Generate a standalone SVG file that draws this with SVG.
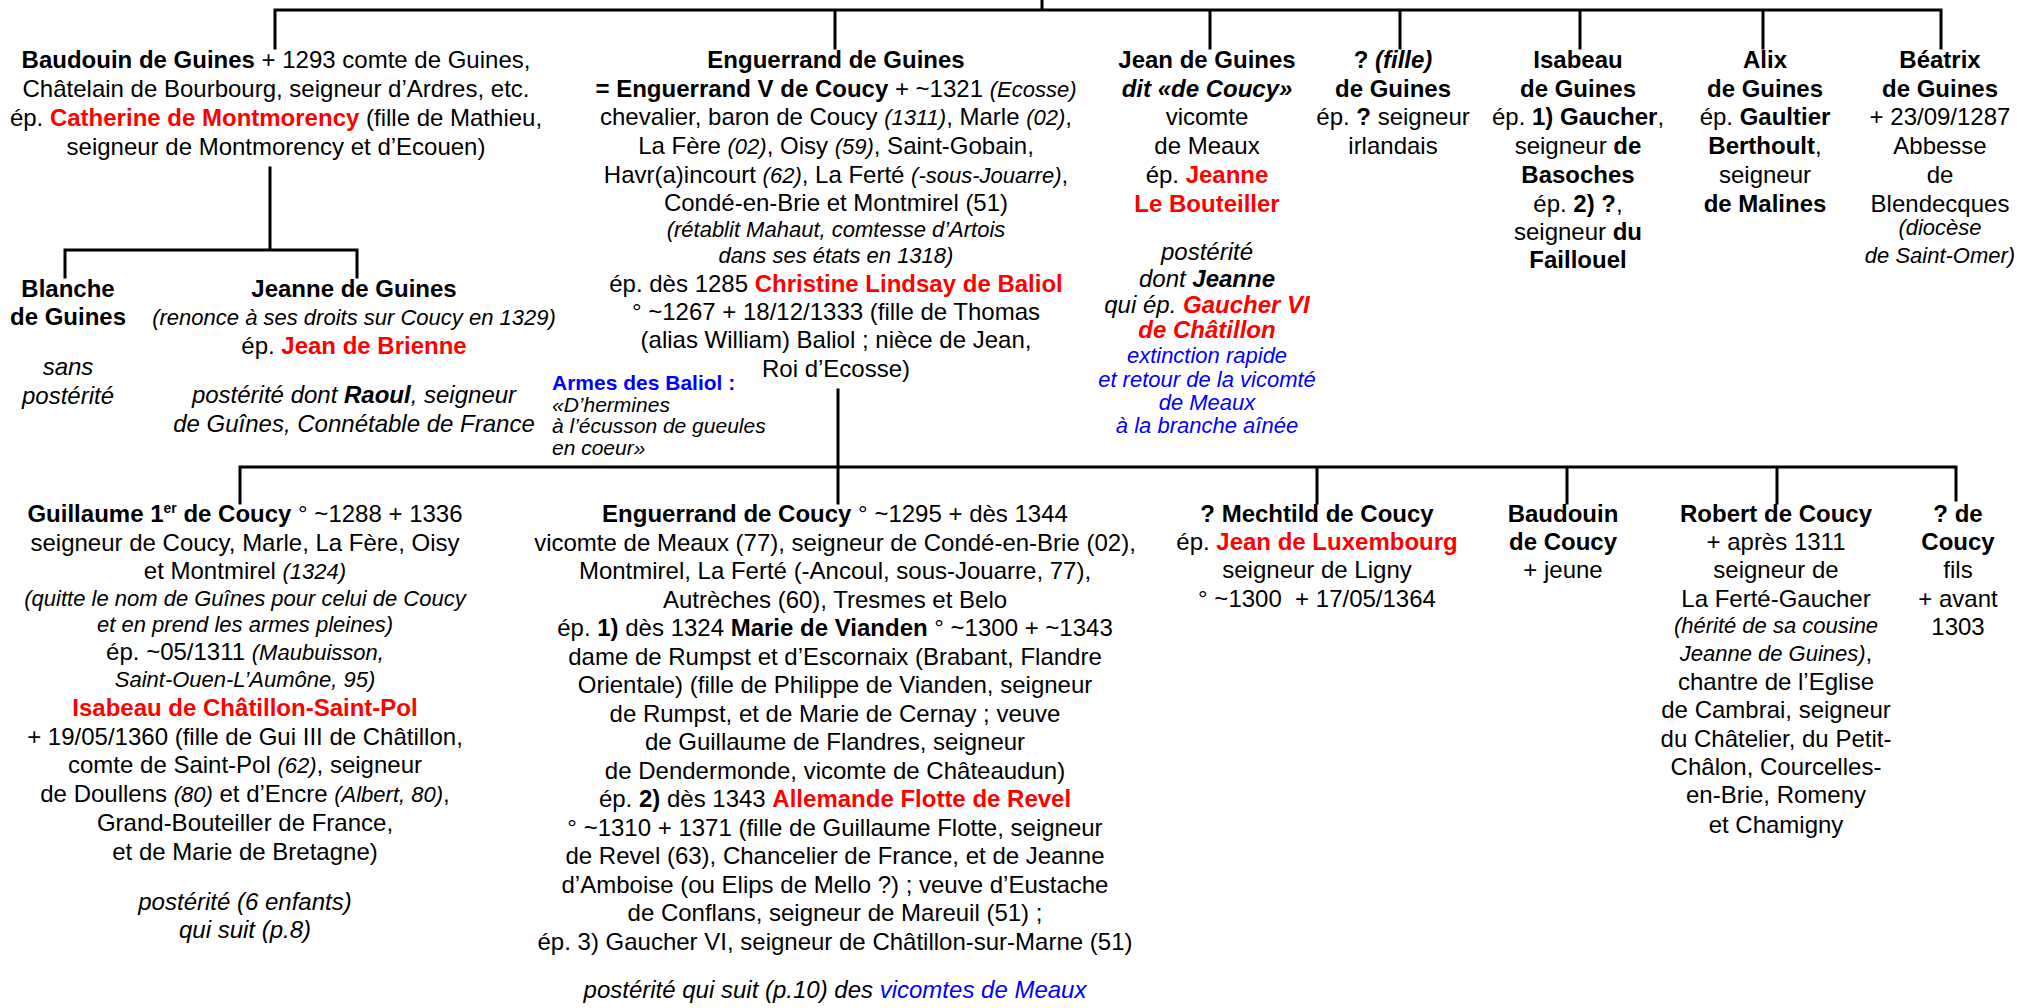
<svg xmlns="http://www.w3.org/2000/svg" width="2017" height="1008" viewBox="0 0 2017 1008">
<style>
text{font-family:"Liberation Sans",Arial,sans-serif;font-size:24px;fill:#000;text-anchor:middle}
.b{font-weight:bold}
.i{font-style:italic}
.s{font-size:22px}
.r{fill:#f00;font-weight:bold}
.u{fill:#00f}
.l{text-anchor:start}
.sup{font-size:14px}
.a{font-size:21px}
.c{fill:none;stroke:#000;stroke-width:3;stroke-linecap:square}
</style>
<rect width="2017" height="1008" fill="#fff"/>
<g id="connectors" class="c">
<path d="M1042,0V10 M275,10H1941 M275,10V48 M835,10V48 M1210,10V48 M1400,10V48 M1580,10V48 M1763,10V48 M1941,10V48"/>
<path d="M270,168V250 M65,250H357 M65,250V277 M357,250V277"/>
<path d="M838,390V503 M240,467H1956 M240,467V503 M1317,467V503 M1567,467V503 M1777,467V503 M1956,467V500"/>
</g>
<g id="baudouin-de-guines">
<text x="276" y="68"><tspan class="b">Baudouin de Guines</tspan> + 1293 comte de Guines,</text>
<text x="276" y="97">Châtelain de Bourbourg, seigneur d’Ardres, etc.</text>
<text x="276" y="126">ép. <tspan class="r">Catherine de Montmorency</tspan> (fille de Mathieu,</text>
<text x="276" y="155">seigneur de Montmorency et d’Ecouen)</text>
</g>
<g id="enguerrand-de-guines">
<text x="836" y="68" class="b">Enguerrand de Guines</text>
<text x="836" y="97"><tspan class="b">= Enguerrand V de Coucy</tspan> + ~1321 <tspan class="i s">(Ecosse)</tspan></text>
<text x="836" y="125">chevalier, baron de Coucy <tspan class="i s">(1311)</tspan>, Marle <tspan class="i s">(02)</tspan>,</text>
<text x="836" y="154">La Fère <tspan class="i s">(02)</tspan>, Oisy <tspan class="i s">(59)</tspan>, Saint-Gobain,</text>
<text x="836" y="183">Havr(a)incourt <tspan class="i s">(62)</tspan>, La Ferté <tspan class="i s">(-sous-Jouarre)</tspan>,</text>
<text x="836" y="211">Condé-en-Brie et Montmirel (51)</text>
<text x="836" y="237" class="i s">(rétablit Mahaut, comtesse d’Artois</text>
<text x="836" y="263" class="i s">dans ses états en 1318)</text>
<text x="836" y="292">ép. dès 1285 <tspan class="r">Christine Lindsay de Baliol</tspan></text>
<text x="836" y="320">° ~1267 + 18/12/1333 (fille de Thomas</text>
<text x="836" y="348">(alias William) Baliol ; nièce de Jean,</text>
<text x="836" y="377">Roi d’Ecosse)</text>
</g>
<g id="armes-baliol">
<text x="552" y="390" class="l a b u">Armes des Baliol :</text>
<text x="552" y="412" class="l a i">«D’hermines</text>
<text x="552" y="433" class="l a i">à l’écusson de gueules</text>
<text x="552" y="455" class="l a i">en coeur»</text>
</g>
<g id="jean-de-guines">
<text x="1207" y="68" class="b">Jean de Guines</text>
<text x="1207" y="97" class="b i">dit «de Coucy»</text>
<text x="1207" y="125">vicomte</text>
<text x="1207" y="154">de Meaux</text>
<text x="1207" y="183">ép. <tspan class="r">Jeanne</tspan></text>
<text x="1207" y="212" class="r">Le Bouteiller</text>
<text x="1207" y="260" class="i">postérité</text>
<text x="1207" y="287" class="i">dont <tspan class="b">Jeanne</tspan></text>
<text x="1207" y="313" class="i">qui ép. <tspan class="r">Gaucher VI</tspan></text>
<text x="1207" y="338" class="i r">de Châtillon</text>
<text x="1207" y="363" class="i s u">extinction rapide</text>
<text x="1207" y="387" class="i s u">et retour de la vicomté</text>
<text x="1207" y="410" class="i s u">de Meaux</text>
<text x="1207" y="433" class="i s u">à la branche aînée</text>
</g>
<g id="fille-de-guines">
<text x="1393" y="68" class="b">? <tspan class="i">(fille)</tspan></text>
<text x="1393" y="97" class="b">de Guines</text>
<text x="1393" y="125">ép. <tspan class="b">?</tspan> seigneur</text>
<text x="1393" y="154">irlandais</text>
</g>
<g id="isabeau-de-guines">
<text x="1578" y="68" class="b">Isabeau</text>
<text x="1578" y="97" class="b">de Guines</text>
<text x="1578" y="125">ép. <tspan class="b">1) Gaucher</tspan>,</text>
<text x="1578" y="154">seigneur <tspan class="b">de</tspan></text>
<text x="1578" y="183" class="b">Basoches</text>
<text x="1578" y="212">ép. <tspan class="b">2) ?</tspan>,</text>
<text x="1578" y="240">seigneur <tspan class="b">du</tspan></text>
<text x="1578" y="268" class="b">Faillouel</text>
</g>
<g id="alix-de-guines">
<text x="1765" y="68" class="b">Alix</text>
<text x="1765" y="97" class="b">de Guines</text>
<text x="1765" y="125">ép. <tspan class="b">Gaultier</tspan></text>
<text x="1765" y="154"><tspan class="b">Berthoult</tspan>,</text>
<text x="1765" y="183">seigneur</text>
<text x="1765" y="212" class="b">de Malines</text>
</g>
<g id="beatrix-de-guines">
<text x="1940" y="68" class="b">Béatrix</text>
<text x="1940" y="97" class="b">de Guines</text>
<text x="1940" y="125">+ 23/09/1287</text>
<text x="1940" y="154">Abbesse</text>
<text x="1940" y="183">de</text>
<text x="1940" y="212">Blendecques</text>
<text x="1940" y="235" class="i s">(diocèse</text>
<text x="1940" y="263" class="i s">de Saint-Omer)</text>
</g>
<g id="blanche-de-guines">
<text x="68" y="297" class="b">Blanche</text>
<text x="68" y="325" class="b">de Guines</text>
<text x="68" y="375" class="i">sans</text>
<text x="68" y="404" class="i">postérité</text>
</g>
<g id="jeanne-de-guines">
<text x="354" y="297" class="b">Jeanne de Guines</text>
<text x="354" y="325" class="i s">(renonce à ses droits sur Coucy en 1329)</text>
<text x="354" y="354">ép. <tspan class="r">Jean de Brienne</tspan></text>
<text x="354" y="403" class="i">postérité dont <tspan class="b">Raoul</tspan>, seigneur</text>
<text x="354" y="432" class="i">de Guînes, Connétable de France</text>
</g>
<g id="guillaume-de-coucy">
<text x="245" y="522"><tspan class="b">Guillaume 1</tspan><tspan class="b sup" dy="-9">er</tspan><tspan class="b" dy="9"> de Coucy</tspan> ° ~1288 + 1336</text>
<text x="245" y="551">seigneur de Coucy, Marle, La Fère, Oisy</text>
<text x="245" y="579">et Montmirel <tspan class="i s">(1324)</tspan></text>
<text x="245" y="606" class="i s">(quitte le nom de Guînes pour celui de Coucy</text>
<text x="245" y="632" class="i s">et en prend les armes pleines)</text>
<text x="245" y="660">ép. ~05/1311 <tspan class="i s">(Maubuisson,</tspan></text>
<text x="245" y="687" class="i s">Saint-Ouen-L’Aumône, 95)</text>
<text x="245" y="716" class="r">Isabeau de Châtillon-Saint-Pol</text>
<text x="245" y="745">+ 19/05/1360 (fille de Gui III de Châtillon,</text>
<text x="245" y="773">comte de Saint-Pol <tspan class="i s">(62)</tspan>, seigneur</text>
<text x="245" y="802">de Doullens <tspan class="i s">(80)</tspan> et d’Encre <tspan class="i s">(Albert, 80)</tspan>,</text>
<text x="245" y="831">Grand-Bouteiller de France,</text>
<text x="245" y="860">et de Marie de Bretagne)</text>
<text x="245" y="910" class="i">postérité (6 enfants)</text>
<text x="245" y="938" class="i">qui suit (p.8)</text>
</g>
<g id="enguerrand-de-coucy">
<text x="835" y="522"><tspan class="b">Enguerrand de Coucy</tspan> ° ~1295 + dès 1344</text>
<text x="835" y="550.5">vicomte de Meaux (77), seigneur de Condé-en-Brie (02),</text>
<text x="835" y="579">Montmirel, La Ferté (-Ancoul, sous-Jouarre, 77),</text>
<text x="835" y="607.5">Autrèches (60), Tresmes et Belo</text>
<text x="835" y="636">ép. <tspan class="b">1)</tspan> dès 1324 <tspan class="b">Marie de Vianden</tspan> ° ~1300 + ~1343</text>
<text x="835" y="664.5">dame de Rumpst et d’Escornaix (Brabant, Flandre</text>
<text x="835" y="693">Orientale) (fille de Philippe de Vianden, seigneur</text>
<text x="835" y="721.5">de Rumpst, et de Marie de Cernay ; veuve</text>
<text x="835" y="750">de Guillaume de Flandres, seigneur</text>
<text x="835" y="778.5">de Dendermonde, vicomte de Châteaudun)</text>
<text x="835" y="807">ép. <tspan class="b">2)</tspan> dès 1343 <tspan class="r">Allemande Flotte de Revel</tspan></text>
<text x="835" y="835.5">° ~1310 + 1371 (fille de Guillaume Flotte, seigneur</text>
<text x="835" y="864">de Revel (63), Chancelier de France, et de Jeanne</text>
<text x="835" y="892.5">d’Amboise (ou Elips de Mello ?) ; veuve d’Eustache</text>
<text x="835" y="921">de Conflans, seigneur de Mareuil (51) ;</text>
<text x="835" y="949.5">ép. 3) Gaucher VI, seigneur de Châtillon-sur-Marne (51)</text>
<text x="835" y="998" class="i">postérité qui suit (p.10) des <tspan class="u">vicomtes de Meaux</tspan></text>
</g>
<g id="mechtild-de-coucy">
<text x="1317" y="522" class="b">? Mechtild de Coucy</text>
<text x="1317" y="550">ép. <tspan class="r">Jean de Luxembourg</tspan></text>
<text x="1317" y="578">seigneur de Ligny</text>
<text x="1317" y="607">° ~1300 &#160;+ 17/05/1364</text>
</g>
<g id="baudouin-de-coucy">
<text x="1563" y="522" class="b">Baudouin</text>
<text x="1563" y="550" class="b">de Coucy</text>
<text x="1563" y="578">+ jeune</text>
</g>
<g id="robert-de-coucy">
<text x="1776" y="522" class="b">Robert de Coucy</text>
<text x="1776" y="550">+ après 1311</text>
<text x="1776" y="578">seigneur de</text>
<text x="1776" y="607">La Ferté-Gaucher</text>
<text x="1776" y="633" class="i s">(hérité de sa cousine</text>
<text x="1776" y="661"><tspan class="i s">Jeanne de Guines)</tspan>,</text>
<text x="1776" y="690">chantre de l’Eglise</text>
<text x="1776" y="718">de Cambrai, seigneur</text>
<text x="1776" y="747">du Châtelier, du Petit-</text>
<text x="1776" y="775">Châlon, Courcelles-</text>
<text x="1776" y="803">en-Brie, Romeny</text>
<text x="1776" y="833">et Chamigny</text>
</g>
<g id="fils-de-coucy">
<text x="1958" y="522" class="b">? de</text>
<text x="1958" y="550" class="b">Coucy</text>
<text x="1958" y="578">fils</text>
<text x="1958" y="607">+ avant</text>
<text x="1958" y="635">1303</text>
</g>
</svg>
